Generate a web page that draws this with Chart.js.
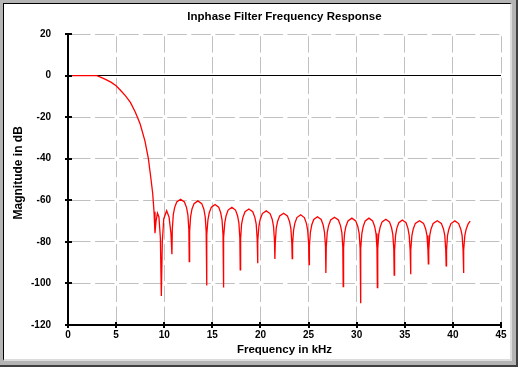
<!DOCTYPE html>
<html><head><meta charset="utf-8">
<script src="https://cdn.jsdelivr.net/npm/chart.js@4.4.1/dist/chart.umd.min.js"></script>
<style>
html,body{margin:0;padding:0;background:#fff;}
#frame{position:absolute;left:0;top:0;width:518px;height:367px;box-sizing:border-box;background:#b4b4b4;border-right:2px solid #404040;border-bottom:2px solid #404040;}
#inner{position:absolute;left:3px;top:3px;width:509px;height:358px;box-sizing:border-box;background:#fff;border-top:1px solid #000;border-left:1px solid #000;border-right:2px solid #dcdcdc;border-bottom:2px solid #dcdcdc;}
#c{position:absolute;left:0;top:0;}
</style></head><body>
<div id="frame"></div><div id="inner"></div>
<canvas id="c" width="518" height="367"></canvas>
<script>
const chartTitle = "Inphase Filter Frequency Response";
const xTitle = "Frequency in kHz";
const yTitle = "Magnitude in dB";
const xTicks = [0, 5, 10, 15, 20, 25, 30, 35, 40, 45];
const yTicks = [-120, -100, -80, -60, -40, -20, 0, 20];

const freqKHz = [
0, 1, 2, 3, 3.5, 4, 4.5, 5, 5.5, 6, 6.5, 7, 7.5, 8, 8.35, 8.63, 8.8, 8.94, 9.04,
9.15, 9.3, 9.45, 9.6, 9.7, 9.8, 9.95, 10.25, 10.5, 10.7, 10.8,
10.84, 10.94, 11.08, 11.3, 11.7, 12.1, 12.32, 12.46, 12.56, 12.6,
12.64, 12.74, 12.88, 13.1, 13.5, 13.9, 14.12, 14.26, 14.36, 14.4,
14.44, 14.54, 14.68, 14.9, 15.28, 15.66, 15.87, 16.01, 16.11, 16.15,
16.19, 16.29, 16.43, 16.64, 17.03, 17.41, 17.62, 17.76, 17.86, 17.9,
17.94, 18.04, 18.18, 18.4, 18.8, 19.2, 19.42, 19.56, 19.66, 19.7,
19.74, 19.84, 19.98, 20.2, 20.6, 21.0, 21.22, 21.36, 21.46, 21.5,
21.54, 21.64, 21.78, 22.0, 22.4, 22.8, 23.02, 23.16, 23.26, 23.3,
23.34, 23.44, 23.58, 23.79, 24.18, 24.56, 24.77, 24.91, 25.01, 25.05,
25.09, 25.19, 25.33, 25.54, 25.93, 26.31, 26.52, 26.66, 26.76, 26.8,
26.84, 26.94, 27.08, 27.3, 27.7, 28.1, 28.32, 28.46, 28.56, 28.6,
28.64, 28.74, 28.88, 29.1, 29.5, 29.9, 30.12, 30.26, 30.36, 30.4,
30.44, 30.54, 30.68, 30.89, 31.28, 31.66, 31.87, 32.01, 32.11, 32.15,
32.19, 32.29, 32.43, 32.64, 33.03, 33.41, 33.62, 33.76, 33.86, 33.9,
33.94, 34.04, 34.17, 34.38, 34.75, 35.13, 35.33, 35.46, 35.56, 35.6,
35.64, 35.74, 35.88, 36.1, 36.53, 36.95, 37.17, 37.31, 37.41, 37.45,
37.49, 37.59, 37.73, 37.95, 38.38, 38.8, 39.02, 39.16, 39.26, 39.3,
39.34, 39.44, 39.58, 39.8, 40.2, 40.6, 40.82, 40.96, 41.06, 41.1,
41.14, 41.24, 41.38, 41.6, 41.8
];

const magDB = [
0, 0, 0, 0, -1, -2.1, -3.3, -4.9, -7.3, -9.9, -13, -17.6, -23.3, -31.5, -39.8, -50, -56.6, -65.5, -75.8,
-70, -66.2, -68, -78, -106, -80, -69, -65, -68, -76, -86,
-74, -67, -63.5, -60.8, -59.5, -60.8, -63.5, -67, -74, -89.5,
-75, -68, -64.3, -61.6, -60.3, -61.6, -64.3, -68, -75, -101,
-76.5, -69.5, -66, -63.3, -62, -63.3, -66, -69.5, -76.5, -102,
-78, -71, -67.4, -64.7, -63.4, -64.7, -67.4, -71, -78, -93.5,
-78.5, -71.5, -68.2, -65.5, -64.2, -65.5, -68.2, -71.5, -78.5, -90.3,
-79.5, -72.5, -69.1, -66.4, -65.1, -66.4, -69.1, -72.5, -79.5, -88.2,
-80.5, -73.5, -70.2, -67.5, -66.2, -67.5, -70.2, -73.5, -80.5, -88,
-81, -74.5, -71, -68.3, -67, -68.3, -71, -74.5, -81, -91,
-82, -75.5, -71.9, -69.2, -67.9, -69.2, -71.9, -75.5, -82, -95,
-82.5, -75.5, -72.2, -69.5, -68.2, -69.5, -72.2, -75.5, -82.5, -101.5,
-83, -76, -72.6, -69.9, -68.6, -69.9, -72.6, -76, -83, -109.5,
-83, -76, -72.6, -69.9, -68.6, -69.9, -72.6, -76, -83, -102,
-83.5, -76.5, -73.1, -70.4, -69.1, -70.4, -73.1, -76.5, -83.5, -96,
-84, -77, -73.5, -70.8, -69.5, -70.8, -73.5, -77, -84, -95.6,
-84, -77, -73.8, -71.1, -69.8, -71.1, -73.8, -77, -84, -90.6,
-84, -77, -73.8, -71.1, -69.8, -71.1, -73.8, -77, -84, -91.6,
-84, -77, -73.9, -71.2, -69.9, -71.2, -73.9, -77, -84, -95,
-84, -77, -73.9, -71.2, -70
];

const family = "'Liberation Sans', Arial, sans-serif";
const points = freqKHz.map((f, i) => ({ x: f, y: magDB[i] }));

const tickMarks = {
  id: 'tickMarks',
  afterDatasetsDraw(chart) {
    const { ctx, scales: { x, y }, chartArea: a } = chart;
    ctx.save();
    ctx.strokeStyle = '#000';
    ctx.lineWidth = 2;
    ctx.beginPath();
    x.ticks.forEach(t => { const px = Math.round(x.getPixelForValue(t.value)); ctx.moveTo(px, a.bottom - 3); ctx.lineTo(px, a.bottom + 3); });
    y.ticks.forEach(t => { const py = Math.round(y.getPixelForValue(t.value)); ctx.moveTo(a.left - 3, py); ctx.lineTo(a.left + 4, py); });
    ctx.stroke();
    ctx.restore();
  }
};

new Chart(document.getElementById('c'), {
  type: 'line',
  data: { datasets: [{ data: points, borderColor: '#ff0000', borderWidth: 1.3, pointRadius: 0, tension: 0, fill: false }] },
  options: {
    responsive: false, animation: false, devicePixelRatio: 1,
    events: [],
    layout: { padding: { left: 0, right: 17, top: 0, bottom: 0 } },
    plugins: {
      legend: { display: false }, tooltip: { enabled: false },
      title: { display: true, text: chartTitle, fullSize: false, color: '#000',
        font: { family, size: 11.5, weight: 'bold', lineHeight: 1.2 }, padding: { top: 10, bottom: 10.2 } }
    },
    scales: {
      x: {
        type: 'linear', min: 0, max: 45,
        afterFit(s) { s.height = 42; },
        afterBuildTicks(s) { s.ticks = xTicks.map(v => ({ value: v })); },
        grid: { color: '#c0c0c0', lineWidth: 1, drawTicks: false },
        border: { display: true, color: '#000', width: 2, dash: [16.3, 4.49], dashOffset: 18.55 },
        ticks: { color: '#000', font: { family, size: 10, weight: 'bold' }, padding: 4.5, maxRotation: 0, autoSkip: false },
        title: { display: true, text: xTitle, color: '#000', font: { family, size: 11.5, weight: 'bold', lineHeight: 1.2 }, padding: { top: 0, bottom: 10.6 } }
      },
      y: {
        type: 'linear', min: -120, max: 20,
        afterFit(s) { s.width = 68; },
        afterBuildTicks(s) { s.ticks = yTicks.map(v => ({ value: v })); },
        grid: { color: (c) => (c.tick && c.tick.value === 0) ? '#000' : '#c0c0c0', lineWidth: 1, drawTicks: false },
        border: { display: true, color: '#000', width: 2,
          dash: (c) => (c.tick && c.tick.value === 0) ? [] : [19.5, 4.55], dashOffset: 22 },
        ticks: { color: '#000', font: { family, size: 10, weight: 'bold' }, padding: 17, autoSkip: false },
        title: { display: true, text: '    ' + yTitle, color: '#000', font: { family, size: 12, weight: 'bold', lineHeight: 1.2 }, padding: { top: 11.3, bottom: 0 } }
      }
    }
  },
  plugins: [tickMarks]
});
</script>
</body></html>
